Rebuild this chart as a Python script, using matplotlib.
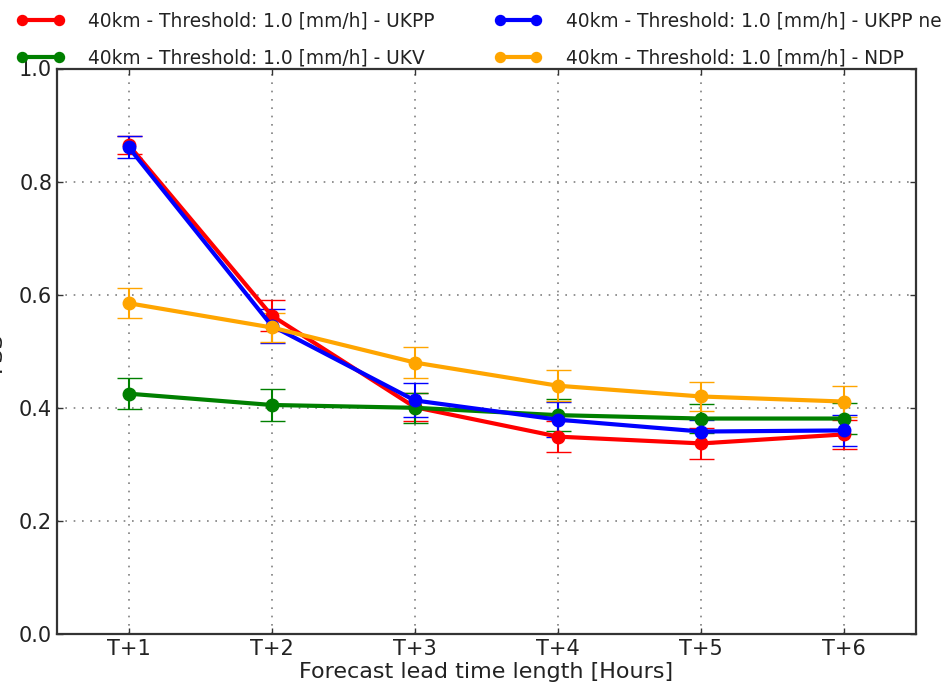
import matplotlib
matplotlib.use("Agg")
import matplotlib.pyplot as plt

OUT = 'out.png'

lead_times = [1, 2, 3, 4, 5, 6]
tick_labels = ['T+1', 'T+2', 'T+3', 'T+4', 'T+5', 'T+6']

ukpp = [0.865, 0.563, 0.401, 0.349, 0.337, 0.353]
ukpp_err = [0.016, 0.027, 0.025, 0.027, 0.027, 0.025]
ukv = [0.425, 0.405, 0.400, 0.387, 0.381, 0.381]
ukv_err = [0.027, 0.028, 0.027, 0.028, 0.026, 0.027]
ukpp_new = [0.861, 0.545, 0.413, 0.379, 0.358, 0.360]
ukpp_new_err = [0.020, 0.030, 0.030, 0.031, 0.020, 0.027]
ndp = [0.585, 0.542, 0.480, 0.439, 0.420, 0.411]
ndp_err = [0.026, 0.025, 0.027, 0.027, 0.026, 0.027]

prefix = '40km - Threshold: 1.0 [mm/h] - '
series = [
  (ukpp, ukpp_err, 'red', prefix + 'UKPP'),
  (ukv, ukv_err, 'green', prefix + 'UKV'),
  (ukpp_new, ukpp_new_err, 'blue', prefix + 'UKPP new'),
  (ndp, ndp_err, 'orange', prefix + 'NDP'),
]

fig = plt.figure(figsize=(9.42, 6.93), dpi=100)
ax = fig.add_axes([57/942, 1 - 634/693, 859/942, 565.5/693])

for vals, errs, col, lab in series:
  ax.errorbar(lead_times, vals, yerr=errs, color=col, lw=3, marker='o',
              markersize=9, markeredgecolor=col, elinewidth=1.5,
              capsize=9, capthick=1, label=lab)

ax.set_xlim(0.5, 6.5)
ax.set_ylim(0.0, 1.0)
ax.set_xticks(lead_times)
ax.set_xticklabels(tick_labels)
ax.set_yticks([0.0, 0.2, 0.4, 0.6, 0.8, 1.0])
ax.tick_params(direction='in', top=True, right=True, length=4, width=1,
               labelsize=15, color='#333333', labelcolor='#222222')
ax.grid(True, color='0.5', linestyle=(0, (1, 4)), linewidth=1.2)
for sp in ax.spines.values():
  sp.set_linewidth(1.6)
  sp.set_color('#333333')

ax.set_xlabel('Forecast lead time length [Hours]', fontsize=16, labelpad=2,
              color='#222222')
ax.set_ylabel('FSS', fontsize=16, color='#222222')
ax.yaxis.set_label_coords(-0.0605, 0.5)

handles, labels = ax.get_legend_handles_labels()
handles = [h[0] for h in handles]
fig.legend(handles, labels, ncol=2, loc='upper left',
           bbox_to_anchor=(0.0, 1.008), frameon=False, fontsize=13.4,
           numpoints=2, handlelength=2.55, handletextpad=1.3,
           columnspacing=3.2, labelspacing=1.0, markerscale=0.8,
           labelcolor='#222222')

fig.savefig(OUT, dpi=100)
print("Plot saved:", OUT)
